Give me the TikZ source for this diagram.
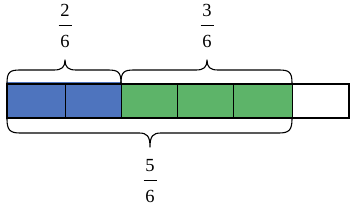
\documentclass[tikz,border=0pt]{standalone}
\usepackage{fontspec}
\setmainfont{Liberation Serif}
\definecolor{cellblue}{HTML}{4E74BE}
\definecolor{cellgreen}{HTML}{5DB469}
\tikzset{
  digit/.style={inner sep=0pt, font=\fontsize{18.5}{18.5}\selectfont},
  fracbar/.style={line width=0.9pt},
  bracel/.style={line width=1.1pt, line join=round},
  divider/.style={line width=0.9pt},
  outer/.style={line width=1.6pt}
}
\begin{document}
\begin{tikzpicture}[x=1pt,y=-1pt]
\useasboundingbox (0,0) rectangle (353,205);
% cells
\fill[cellblue] (7,84) rectangle (121,118);
\fill[cellgreen] (121,84) rectangle (292,118);
\draw[cellblue, line width=0.8pt] (7,82.5) -- (121,82.5);
\foreach \x in {65,121,177,233,292} \draw[divider] (\x,84) -- (\x,118);
\draw[outer] (7,84) rectangle (349,118);
% top brace 1
\draw[bracel] (7,83) .. controls (7,72) and (10,70) .. (20,70) -- (54,70)
  .. controls (62,70) and (65,67) .. (65,60)
  .. controls (65,67) and (68,70) .. (76,70) -- (108,70)
  .. controls (118,70) and (121,72) .. (121,83);
% top brace 2
\draw[bracel] (121,83) .. controls (121,72) and (124,70) .. (134,70) -- (196,70)
  .. controls (204,70) and (207,67) .. (207,60)
  .. controls (207,67) and (210,70) .. (218,70) -- (279,70)
  .. controls (289,70) and (292,72) .. (292,83);
% bottom brace
\draw[bracel] (7,119) .. controls (7,130) and (10,133) .. (20,133) -- (139,133)
  .. controls (147,133) and (150,136) .. (150,147)
  .. controls (150,136) and (153,133) .. (161,133) -- (279,133)
  .. controls (289,133) and (292,130) .. (292,119);
% labels
\node[digit] (n1) at (65,10.5) {2};
\node[digit] (d1) at (65,41.5) {6};
\coordinate (b1l) at (58.5,25); \coordinate (b1r) at (71.5,25);
\draw[fracbar] (b1l) -- (b1r);
\node[digit] (n2) at (207,10.5) {3};
\node[digit] (d2) at (207,41.5) {6};
\coordinate (b2l) at (200.5,25); \coordinate (b2r) at (213.5,25);
\draw[fracbar] (b2l) -- (b2r);
\node[digit] (n3) at (150,165.5) {5};
\node[digit] (d3) at (150,196) {6};
\coordinate (b3l) at (143.5,180); \coordinate (b3r) at (156.5,180);
\draw[fracbar] (b3l) -- (b3r);
\end{tikzpicture}
\end{document}
